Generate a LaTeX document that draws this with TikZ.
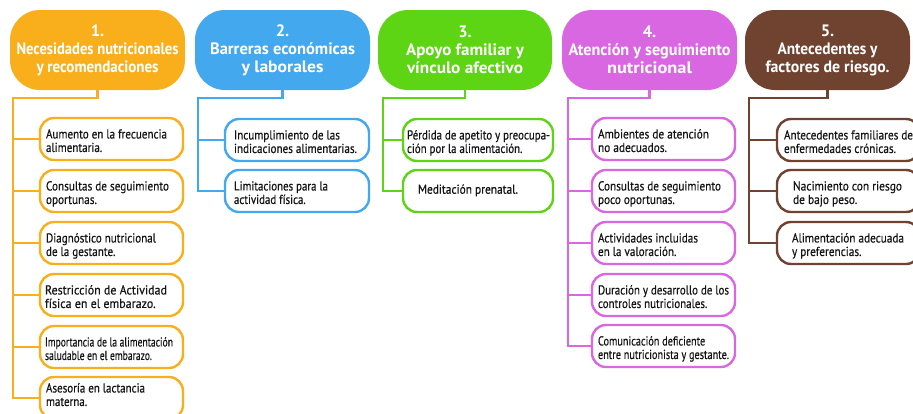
\documentclass[tikz,border=0pt]{standalone}
\usepackage{fontspec}
\setmainfont{PT Sans}
\newfontfamily\itmfont[FakeBold=0.5]{PT Sans}
\usepackage{graphicx}
\definecolor{cone}{HTML}{F9AF1B}
\definecolor{ctwo}{HTML}{43A8EE}
\definecolor{cthree}{HTML}{5DD414}
\definecolor{cfour}{HTML}{DA67E2}
\definecolor{cfive}{HTML}{6F4330}
\newsavebox\fitbox
\newcommand\fitto[2]{\sbox\fitbox{\begin{tabular}{@{}l@{}}#2\end{tabular}}%
  \pgfmathsetmacro\fitf{#1/\wd\fitbox}\scalebox{\fitf}[1]{\usebox\fitbox}}
\newcommand\hfit[2]{\sbox\fitbox{#2}\pgfmathsetmacro\fitf{#1/\wd\fitbox}\scalebox{\fitf}[1]{\usebox\fitbox}}
\newcommand\itembx[8]{%
  \node[itm, draw=#2, minimum width=#5pt] (#1) at (#3,#4) {};
  \node[txt, anchor=west] (#1t) at ([#6]#1.west) {\fitto{#7}{#8}};
}
\begin{document}
\begin{tikzpicture}[x=1pt,y=-1pt,
  hdr/.style={rounded corners=30pt, minimum height=80pt, inner sep=0pt, text=white, align=center,
    font=\bfseries\fontsize{16.5}{18}\selectfont},
  itm/.style={rounded corners=14pt, line width=2.4pt, minimum height=42pt, inner sep=0pt, fill=white},
  txt/.style={inner sep=0pt, text=black!92, font=\itmfont\fontsize{13}{13.5}\selectfont},
  conn/.style={line width=2.4pt}]
\useasboundingbox (0,0) rectangle (913,413);
\clip (0,0) rectangle (913,413);

% headers
\node[hdr, fill=cone, minimum width=175pt] (h1) at (97.5,50) {1.\\\hfit{162}{Necesidades nutricionales}\\\hfit{122}{y recomendaciones}};
\node[hdr, fill=ctwo, minimum width=175pt] (h2) at (282.5,50) {2.\\\hfit{145}{Barreras económicas}\\\hfit{82}{y laborales}};
\node[hdr, fill=cthree, minimum width=174pt] (h3) at (465,50) {3.\\\hfit{118}{Apoyo familiar y}\\\hfit{116}{vínculo afectivo}};
\node[hdr, fill=cfour, minimum width=175pt] (h4) at (649.5,50) {4.\\\hfit{162}{Atención y seguimiento}\\\hfit{85}{nutricional}};
\node[hdr, fill=cfive, minimum width=165pt] (h5) at (827.5,50) {5.\\\hfit{100}{Antecedentes y}\\\hfit{124}{factores de riesgo.}};

\coordinate (k1) at (13,98);
\coordinate (k2) at (198,98);
\coordinate (k3) at (383,98);
\coordinate (k4) at (568,98);
\coordinate (k5) at (749,98);

% column 1
\itembx{a1}{cone}{111.5}{139}{143}{xshift=7pt,yshift=-3.5pt}{121}{Aumento en la frecuencia\\alimentaria.}
\itembx{a2}{cone}{111.5}{191}{143}{xshift=7pt,yshift=-3.5pt}{123}{Consultas de seguimiento\\oportunas.}
\itembx{a3}{cone}{111.5}{243}{143}{xshift=7pt,yshift=-3.5pt}{110}{Diagnóstico nutricional\\de la gestante.}
\itembx{a4}{cone}{111.5}{295}{143}{xshift=6pt,yshift=-3.5pt}{122}{Restricción de Actividad\\física en el embarazo.}
\itembx{a5}{cone}{111.5}{347}{143}{xshift=6pt,yshift=-3.5pt}{128}{Importancia de la alimentación\\saludable en el embarazo.}
\itembx{a6}{cone}{111.5}{398}{143}{xshift=7pt,yshift=1.5pt}{99}{Asesoría en lactancia\\materna.}

% column 2
\itembx{b1}{ctwo}{297}{140}{144}{xshift=10pt,yshift=-3.5pt}{123}{Incumplimiento de las\\indicaciones alimentarias.}
\itembx{b2}{ctwo}{297}{191}{144}{xshift=10pt,yshift=-3.5pt}{94}{Limitaciones para la\\actividad física.}

% column 3
\itembx{c1}{cthree}{478}{140}{150}{xshift=5pt,yshift=-3.5pt}{143}{Pérdida de apetito y preocupa-\\ción por la alimentación.}
\itembx{c2}{cthree}{478}{191}{150}{xshift=16pt}{100}{Meditación prenatal.}

% column 4
\itembx{d1}{cfour}{663.5}{139}{143}{xshift=7pt,yshift=-3.5pt}{111}{Ambientes de atención\\no adecuados.}
\itembx{d2}{cfour}{663.5}{191}{143}{xshift=7pt,yshift=-3.5pt}{123}{Consultas de seguimiento\\poco oportunas.}
\itembx{d3}{cfour}{663.5}{243}{143}{xshift=7pt,yshift=-3.5pt}{100}{Actividades incluidas\\en la valoración.}
\itembx{d4}{cfour}{663.5}{295}{143}{xshift=7pt,yshift=-3.5pt}{131}{Duración y desarrollo de los\\controles nutricionales.}
\itembx{d5}{cfour}{663.5}{346}{143}{xshift=7pt,yshift=-3.5pt}{131}{Comunicación deficiente\\entre nutricionista y gestante.}

% column 5
\itembx{e1}{cfive}{848.5}{140}{143}{xshift=8pt,yshift=-3.5pt}{129}{Antecedentes familiares de\\enfermedades crónicas.}
\itembx{e2}{cfive}{848.5}{191}{143}{xshift=17pt,yshift=-3.5pt}{109}{Nacimiento con riesgo\\de bajo peso.}
\itembx{e3}{cfive}{848.5}{243}{143}{xshift=16pt,yshift=-3.5pt}{112}{Alimentación adecuada\\y preferencias.}

% connectors
\draw[conn, cone] (h1.south) |- (k1) |- (a6.west);
\foreach \n in {a1,a2,a3,a4,a5} \draw[conn, cone] (k1 |- \n.west) -- (\n.west);
\draw[conn, ctwo] (h2.south) |- (k2) |- (b2.west);
\draw[conn, ctwo] (k2 |- b1.west) -- (b1.west);
\draw[conn, cthree] (h3.south) |- (k3) |- (c2.west);
\draw[conn, cthree] (k3 |- c1.west) -- (c1.west);
\draw[conn, cfour] (h4.south) |- (k4) |- (d5.west);
\foreach \n in {d1,d2,d3,d4} \draw[conn, cfour] (k4 |- \n.west) -- (\n.west);
\draw[conn, cfive] (h5.south) |- (k5) |- (e3.west);
\foreach \n in {e1,e2} \draw[conn, cfive] (k5 |- \n.west) -- (\n.west);
\end{tikzpicture}
\end{document}
